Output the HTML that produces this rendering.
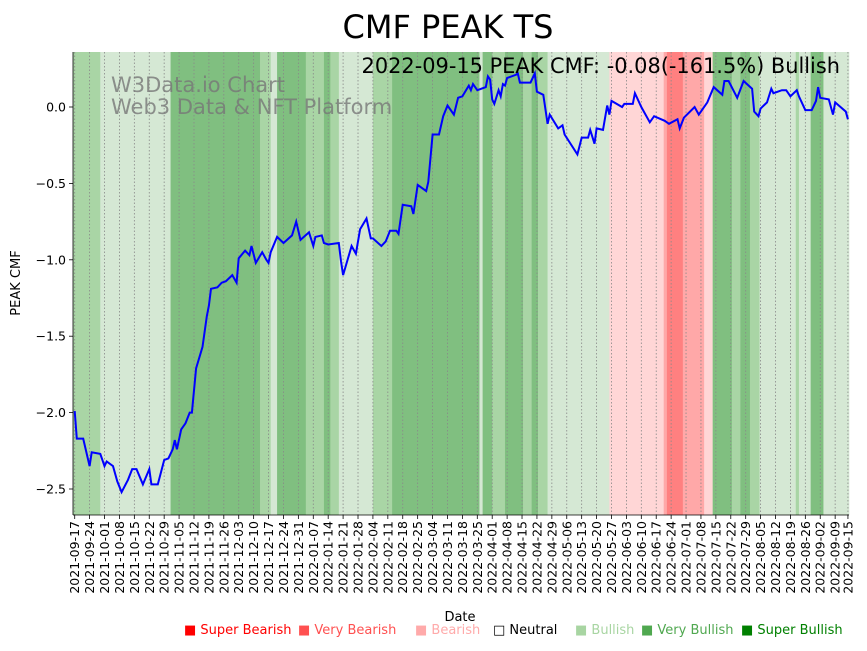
<!DOCTYPE html>
<html><head><meta charset="utf-8"><style>
body{margin:0;background:#fff;width:867px;height:646px;overflow:hidden;font-family:"Liberation Sans","DejaVu Sans",sans-serif}
svg text{font-family:"DejaVu Sans","Liberation Sans",sans-serif}
</style></head><body>
<svg id="chart" width="867" height="646" xmlns="http://www.w3.org/2000/svg">
<text x="448" y="38" font-size="32" text-anchor="middle">CMF PEAK TS</text>
<g id="bands"></g>
<g id="grid"></g>
<text x="111" y="92" font-size="21" fill="#777" fill-opacity="0.8">W3Data.io Chart</text>
<text x="111" y="114" font-size="21" fill="#777" fill-opacity="0.8">Web3 Data &amp; NFT Platform</text>
<path id="line" fill="none" stroke="#0000ff" stroke-width="2"/>
<text x="840" y="73" font-size="20.9" text-anchor="end">2022-09-15 PEAK CMF: -0.08(-161.5%) Bullish</text>
<g id="yaxis"></g>
<g id="xaxis"></g>
<text transform="translate(20,283) rotate(-90)" font-size="13" text-anchor="middle">PEAK CMF</text>
<text x="460" y="621" font-size="13" text-anchor="middle">Date</text>
<g font-size="13">
<text x="184" y="634" fill="#ff0000">■ Super Bearish</text>
<text x="298" y="634" fill="#ff5050">■ Very Bearish</text>
<text x="415" y="634" fill="#ffaaaa">■ Bearish</text>
<text x="493" y="634" fill="#000">□ Neutral</text>
<text x="575" y="634" fill="#a8d5a2">■ Bullish</text>
<text x="641" y="634" fill="#50a850">■ Very Bullish</text>
<text x="741" y="634" fill="#008000">■ Super Bullish</text>
</g>
</svg>
<script>
const bandStart=[-0.8,12,45,87,92,95,108.5,117,120,124,140,149,190,191.5,196,202,210.5,214.5,217.5,222,251,276.5,278,285.5,295.5,299.5,308.5,312.5,317,321.5,338.5,340,345.5,351.5];
const bandLevel=[2,1,3,2,1,3,2,3,2,1,2,3,1,3,2,3,2,3,2,1,-1,-2,-3,-2,-1,3,2,3,2,1,2,1,3,1];
const lineDays=[0,1,4,7,8,12,14,15,18,20,22,25,27,29,32,35,36,39,42,44,46,47,48,50,52,54,55,57,60,62,63,64,67,69,71,74,76,77,80,82,83,85,88,90,91,92,95,98,102,104,106,110,112,113,116,117,119,124,125,126,130,132,134,137,139,140,144,146,148,151,152,154,158,159,161,165,166,168,171,173,175,178,180,182,185,186,187,189,193,194,195,196,197,199,200,201,202,203,207,208,209,214,216,217,220,222,223,227,229,230,236,238,241,242,244,245,248,250,251,252,257,258,262,263,266,270,272,277,279,283,284,286,291,293,297,300,304,305,307,311,314,318,319,321,322,325,327,328,332,334,336,339,340,343,346,348,349,350,354,356,357,362,363];
const lineVals=[-1.99,-2.17,-2.17,-2.35,-2.26,-2.27,-2.35,-2.32,-2.35,-2.45,-2.52,-2.44,-2.37,-2.37,-2.47,-2.37,-2.47,-2.47,-2.31,-2.30,-2.24,-2.18,-2.24,-2.11,-2.07,-2.00,-2.00,-1.71,-1.57,-1.37,-1.30,-1.19,-1.18,-1.15,-1.14,-1.10,-1.15,-0.99,-0.94,-0.97,-0.91,-1.02,-0.95,-1.00,-1.02,-0.95,-0.85,-0.89,-0.84,-0.75,-0.87,-0.82,-0.91,-0.85,-0.84,-0.89,-0.90,-0.89,-1.01,-1.10,-0.91,-0.96,-0.80,-0.73,-0.86,-0.86,-0.91,-0.88,-0.81,-0.81,-0.83,-0.64,-0.65,-0.70,-0.51,-0.55,-0.49,-0.18,-0.18,-0.06,0.01,-0.05,0.06,0.07,0.14,0.11,0.15,0.11,0.13,0.20,0.18,0.05,0.02,0.11,0.07,0.15,0.14,0.19,0.21,0.22,0.16,0.16,0.22,0.10,0.08,-0.11,-0.05,-0.14,-0.12,-0.18,-0.31,-0.20,-0.20,-0.15,-0.24,-0.14,-0.15,0.01,-0.05,0.04,0.00,0.02,0.02,0.09,0.00,-0.10,-0.06,-0.09,-0.11,-0.08,-0.14,-0.07,0.00,-0.05,0.03,0.13,0.08,0.17,0.17,0.06,0.17,0.12,-0.03,-0.06,-0.01,0.03,0.12,0.09,0.11,0.11,0.07,0.11,0.07,-0.02,-0.02,0.04,0.13,0.06,0.05,-0.05,0.03,-0.03,-0.08];
const yTicks=[0.0,-0.5,-1.0,-1.5,-2.0,-2.5];
const yTickLabels=["0.0","\u22120.5","\u22121.0","\u22121.5","\u22122.0","\u22122.5"];
const xTickLabels=["2021-09-17","2021-09-24","2021-10-01","2021-10-08","2021-10-15","2021-10-22","2021-10-29","2021-11-05","2021-11-12","2021-11-19","2021-11-26","2021-12-03","2021-12-10","2021-12-17","2021-12-24","2021-12-31","2022-01-07","2022-01-14","2022-01-21","2022-01-28","2022-02-04","2022-02-11","2022-02-18","2022-02-25","2022-03-04","2022-03-11","2022-03-18","2022-03-25","2022-04-01","2022-04-08","2022-04-15","2022-04-22","2022-04-29","2022-05-06","2022-05-13","2022-05-20","2022-05-27","2022-06-03","2022-06-10","2022-06-17","2022-06-24","2022-07-01","2022-07-08","2022-07-15","2022-07-22","2022-07-29","2022-08-05","2022-08-12","2022-08-19","2022-08-26","2022-09-02","2022-09-09","2022-09-15"];
const xTickDays=xTickLabels.map((s,i)=>i<52?i*7:363);

const NS="http://www.w3.org/2000/svg";
const L=73,R=849,T=52,B=515,DMIN=-0.8,DMAX=363.5;
const xS=d=>L+(d-DMIN)/(DMAX-DMIN)*(R-L);
const yS=v=>107-v*152.8;
const colors={"1":"#d5e8d4","2":"#a9d5a5","3":"#80bf80","-1":"#ffd6d6","-2":"#ffa8a8","-3":"#ff8080"};
function mk(tag,attrs,parent){const e=document.createElementNS(NS,tag);for(const k in attrs)e.setAttribute(k,attrs[k]);parent.appendChild(e);return e;}
const bands=document.getElementById('bands');
bandStart.forEach((s,i)=>{
  const e=i<bandStart.length-1?bandStart[i+1]:DMAX;
  const r=mk('rect',{x:xS(s),y:T,width:xS(e)-xS(s)+0.3,height:B-T,fill:colors[bandLevel[i]]},bands);
  
  
});
const grid=document.getElementById('grid'),xa=document.getElementById('xaxis'),ya=document.getElementById('yaxis');
xTickDays.forEach((d,i)=>{
  const x=xS(d);
  const g=mk('line',{x1:x,x2:x,y1:T,y2:B,stroke:'#888','stroke-width':0.8,'stroke-dasharray':'1.5,2'},grid);
  
  
  mk('line',{x1:x,x2:x,y1:B,y2:B+4,stroke:'#000','stroke-width':0.8},xa);
  const t=mk('text',{transform:`translate(${x+4.5},${B+6}) rotate(-90)`,'font-size':12.5,'text-anchor':'end'},xa);
  t.textContent=xTickLabels[i];
  
  
});
yTicks.forEach((v,i)=>{
  const y=yS(v);
  mk('line',{x1:L-4,x2:L,y1:y,y2:y,stroke:'#000','stroke-width':0.8},ya);
  const t=mk('text',{x:L-7,y:y+4.5,'font-size':12.5,'text-anchor':'end'},ya);
  t.textContent=yTickLabels[i];
  
  
});
mk('line',{x1:L,x2:L,y1:T,y2:B,stroke:'#000','stroke-width':0.8},ya);
mk('line',{x1:L,x2:R,y1:B,y2:B,stroke:'#000','stroke-width':0.8},xa);
document.getElementById('line').setAttribute('d',lineDays.map((d,i)=>(i?'L':'M')+xS(d).toFixed(1)+','+yS(lineVals[i]).toFixed(1)).join(''));
</script>
</body></html>
